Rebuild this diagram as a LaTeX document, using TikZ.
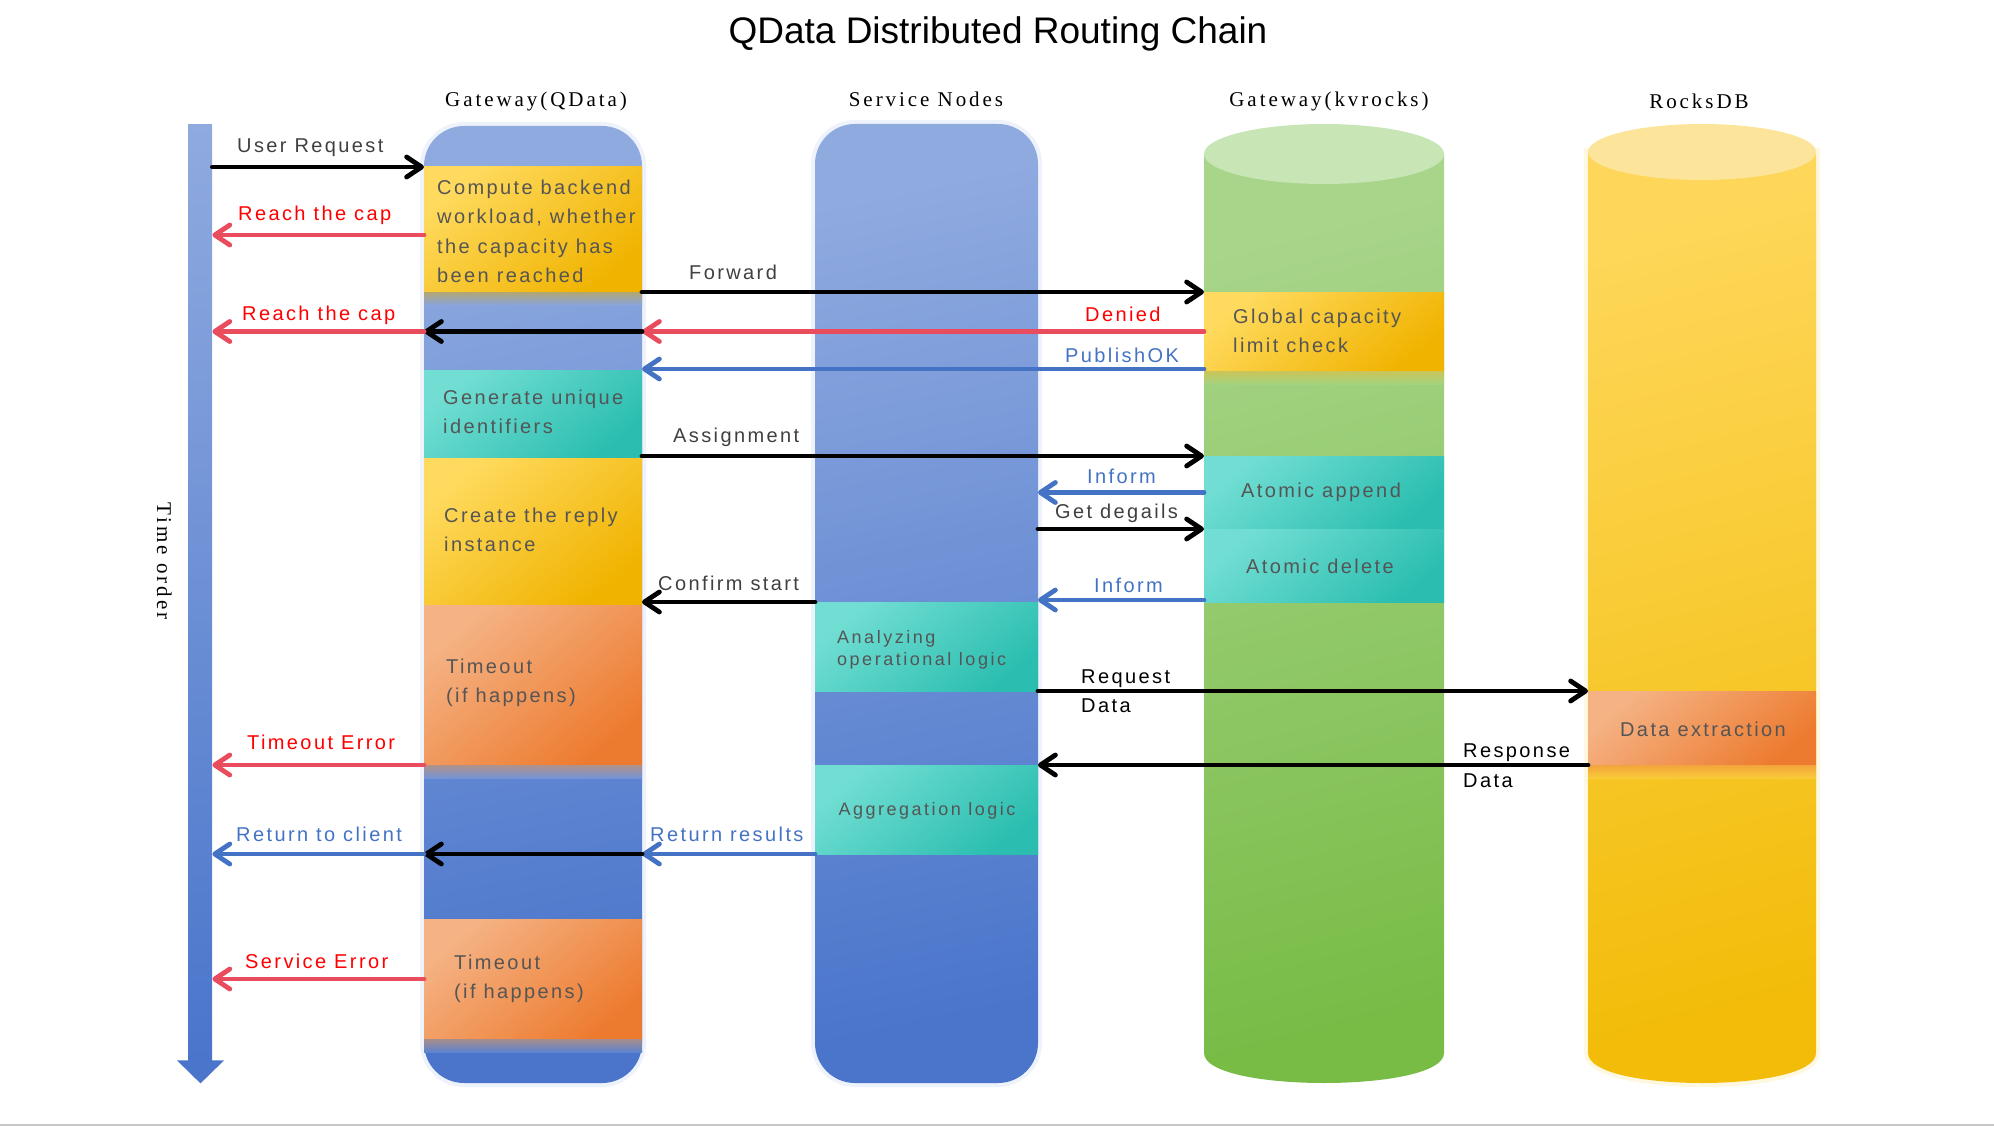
\documentclass[tikz,border=0pt]{standalone}
\usepackage{fontspec}
\setmainfont{Liberation Sans}
\newfontfamily\lblfont[LetterSpace=12]{Liberation Sans}
\newfontfamily\smlfont[LetterSpace=14]{Liberation Sans}
\newfontfamily\hdrfont[LetterSpace=14]{Liberation Serif}
\usetikzlibrary{arrows.meta}
\definecolor{colA}{HTML}{8FAADF}
\definecolor{colB}{HTML}{4A75CB}
\definecolor{yelA}{HTML}{FFDA5E}
\definecolor{yelB}{HTML}{F0B300}
\definecolor{tealA}{HTML}{72DED3}
\definecolor{tealB}{HTML}{2BBEB0}
\definecolor{orA}{HTML}{F5B385}
\definecolor{orB}{HTML}{ED7B2F}
\definecolor{grnA}{HTML}{A9D58B}
\definecolor{grnB}{HTML}{78BC46}
\definecolor{grnTop}{HTML}{C8E5B5}
\definecolor{rdbA}{HTML}{FED75A}
\definecolor{rdbB}{HTML}{F2BC08}
\definecolor{rdbTop}{HTML}{FCE49A}
\definecolor{txtgray}{HTML}{555555}
\definecolor{lblgray}{HTML}{404040}
\definecolor{redarr}{HTML}{E84C5D}
\definecolor{redtxt}{HTML}{FF0000}
\definecolor{bluearr}{HTML}{4472C4}
\definecolor{shA}{HTML}{B2A672}
\definecolor{shAb}{HTML}{89A5DC}
\definecolor{shB}{HTML}{B0928A}
\definecolor{shBb}{HTML}{7593D6}
\definecolor{shC}{HTML}{A88C8A}
\definecolor{shCb}{HTML}{5D84CF}
\definecolor{shD}{HTML}{CBC457}
\definecolor{shDb}{HTML}{A4D380}
\definecolor{shE}{HTML}{F2A43C}
\definecolor{shEb}{HTML}{F9CB38}
\tikzset{
  arr/.style={line width=4.8pt, line cap=round, -{Straight Barb[length=15pt,width=20pt,round]}},
  karr/.style={arr, draw=black},
  rarr/.style={arr, draw=redarr},
  barr/.style={arr, draw=bluearr},
  col/.style={inner sep=0pt, outer sep=0pt, anchor=north west, rounded corners=40pt,
    shading=axis, top color=colA, bottom color=colB, shading angle=12,
    preaction={draw=colA!50, line width=8pt, draw opacity=0.3}},
  blk/.style={inner sep=0pt, outer sep=0pt, anchor=north west},
  yel/.style={blk, shading=axis, top color=yelA, bottom color=yelB, shading angle=40},
  teal/.style={blk, shading=axis, top color=tealA, bottom color=tealB, shading angle=40},
  ora/.style={blk, shading=axis, top color=orA, bottom color=orB, shading angle=40},
  lbl/.style={anchor=base west, inner sep=0pt, font=\lblfont\fontsize{20}{24}\selectfont},
  btxt/.style={lbl, text=txtgray},
  stxt/.style={anchor=base west, inner sep=0pt, text=txtgray, font=\smlfont\fontsize{18}{22}\selectfont},
  hdr/.style={anchor=base, inner sep=0pt, font=\hdrfont\fontsize{21}{25}\selectfont}
}
\begin{document}
\begin{tikzpicture}[x=1pt,y=-1pt]
\path[use as bounding box] (0,0) rectangle (1994,1126);
\draw[black!22, line width=1.5pt] (0,1125) -- (1994,1125);

% title and headers
\node[anchor=base, inner sep=0pt, font=\fontsize{37}{44}\selectfont] (title) at (998,44) {QData Distributed Routing Chain};
\node[hdr] (hqd) at (536,107) {Gateway(QData)};
\node[hdr] (hsn) at (926,107) {Service Nodes};
\node[hdr] (hkv) at (1329,107) {Gateway(kvrocks)};
\node[hdr] (hrdb) at (1699,109) {RocksDB};
\node[hdr, rotate=-90] (hto) at (157,561) {Time order};

% time axis
\node[inner sep=0pt, anchor=north west, minimum width=24pt, minimum height=936pt,
      shading=axis, top color=colA, bottom color=colB] (tb) at (188,124) {};
\fill[colB] (tb.south west) ++(-11,0) -- ++(47,0) -- ++(-23.5,23) -- cycle;

% columns
\node[col, minimum width=218pt, minimum height=957pt] (qd) at (424,126) {};
\node[col, minimum width=223pt, minimum height=959pt] (sn) at (815,124) {};

% cylinders
\path[shading=axis, top color=grnA, bottom color=grnB, shading angle=15]
  (1204,154) -- (1204,1053) .. controls (1204,1093) and (1444,1093) .. (1444,1053) -- (1444,154) -- cycle;
\fill[grnTop] (1324,154) ellipse [x radius=120pt, y radius=30pt];
\path[shading=axis, top color=rdbA, bottom color=rdbB, shading angle=15,
      preaction={draw=rdbA!60, line width=8pt, draw opacity=0.3}]
  (1588,152) -- (1588,1053) .. controls (1588,1093) and (1816,1093) .. (1816,1053) -- (1816,152) -- cycle;
\fill[rdbTop] (1702,152) ellipse [x radius=114pt, y radius=28pt];

% blocks
\node[yel, minimum width=218pt, minimum height=125pt] (compute) at (424,167) {};
\node[teal, minimum width=218pt, minimum height=88pt] (gen) at (424,370) {};
\node[yel, minimum width=218pt, minimum height=147pt] (create) at (424,458) {};
\node[ora, minimum width=218pt, minimum height=160pt] (to1) at (424,605) {};
\node[ora, minimum width=218pt, minimum height=120pt] (to2) at (424,919) {};
\node[teal, minimum width=223pt, minimum height=89pt] (analyze) at (815,602) {};
\node[teal, minimum width=223pt, minimum height=89pt] (agg) at (815,765) {};
\node[yel, minimum width=240pt, minimum height=79pt] (gcap) at (1204,292) {};
\node[teal, minimum width=240pt, minimum height=73pt] (append) at (1204,456) {};
\node[teal, minimum width=240pt, minimum height=73pt] (delete) at (1204,529) {};
\node[ora, minimum width=228pt, minimum height=74pt] (dataext) at (1588,691) {};

% shadows under blocks
\shade[top color=shA, bottom color=shAb] (424,292) rectangle (642,305);
\shade[top color=shB, bottom color=shBb] (424,765) rectangle (642,778);
\shade[top color=shC, bottom color=shCb] (424,1039) rectangle (642,1052);
\shade[top color=shD, bottom color=shDb] (1204,371) rectangle (1444,384);
\shade[top color=shE, bottom color=shEb] (1588,765) rectangle (1816,778);

% connectors
\coordinate (rc1) at (424,235);
\coordinate (pub) at ([yshift=2pt]gcap.south west);
\coordinate (inf2) at ([yshift=2pt]delete.south west);
\draw[karr] (tb.east |- compute.north west) -- (compute.north west);
\draw[rarr] (rc1) -- (tb.east |- rc1);
\draw[karr] (compute.south east) -- (gcap.north west);
\draw[rarr] (gcap.west) -- (qd.east |- gcap.west);
\draw[karr] (qd.east |- gcap.west) -- (qd.west |- gcap.west);
\draw[rarr] (qd.west |- gcap.west) -- (tb.east |- gcap.west);
\draw[barr] (pub) -- (qd.east |- pub);
\draw[karr] (qd.east |- append.north west) -- (append.north west);
\draw[barr] (append.west) -- (sn.east |- append.west);
\draw[karr] (sn.east |- delete.north west) -- (delete.north west);
\draw[barr] (inf2) -- (sn.east |- inf2);
\draw[karr] (analyze.north west) -- (qd.east |- analyze.north west);
\draw[karr] (analyze.south east) -- (dataext.north west);
\draw[karr] (dataext.south west) -- (agg.north east);
\draw[rarr] (to1.south west) -- (tb.east |- to1.south west);
\draw[barr] (agg.south west) -- (qd.east |- agg.south west);
\draw[karr] (qd.east |- agg.south west) -- (qd.west |- agg.south west);
\draw[barr] (qd.west |- agg.south west) -- (tb.east |- agg.south west);
\draw[rarr] (to2.west) -- (tb.east |- to2.west);

% connector labels
\node[lbl, text=lblgray] (lur) at (237,153) {User Request};
\node[lbl, text=redtxt] (lrc1) at (238,221) {Reach the cap};
\node[lbl, text=redtxt] (lrc2) at (242,320) {Reach the cap};
\node[lbl, text=lblgray] (lfw) at (689,279) {Forward};
\node[lbl, text=redtxt] (lden) at (1085,321) {Denied};
\node[lbl, text=bluearr] (lpub) at (1065,362) {PublishOK};
\node[lbl, text=lblgray] (lasg) at (673,442) {Assignment};
\node[lbl, text=bluearr] (linf1) at (1087,483) {Inform};
\node[lbl, text=lblgray] (lget) at (1055,518) {Get degails};
\node[lbl, text=bluearr] (linf2) at (1094,592) {Inform};
\node[lbl, text=lblgray] (lconf) at (658,590) {Confirm start};
\node[lbl, text=black] (lreq1) at (1081,683) {Request};
\node[lbl, text=black] (lreq2) at (1081,712) {Data};
\node[lbl, text=black] (lres1) at (1463,757) {Response};
\node[lbl, text=black] (lres2) at (1463,787) {Data};
\node[lbl, text=redtxt] (lte) at (247,749) {Timeout Error};
\node[lbl, text=bluearr] (lrtc) at (236,841) {Return to client};
\node[lbl, text=bluearr] (lrr) at (650,841) {Return results};
\node[lbl, text=redtxt] (lse) at (245,968) {Service Error};

% block texts
\node[btxt] (tc1) at (437,195) {Compute backend};
\node[btxt] (tc2) at (437,224) {workload, whether};
\node[btxt] (tc3) at (437,253) {the capacity has};
\node[btxt] (tc4) at (437,282) {been reached};
\node[btxt] (tg1) at (443,404) {Generate unique};
\node[btxt] (tg2) at (443,433) {identifiers};
\node[btxt] (tr1) at (444,522) {Create the reply};
\node[btxt] (tr2) at (444,551) {instance};
\node[btxt] (tt1) at (446,673) {Timeout};
\node[btxt] (tt2) at (446,702) {(if happens)};
\node[btxt] (tu1) at (454,969) {Timeout};
\node[btxt] (tu2) at (454,998) {(if happens)};
\node[btxt] (tk1) at (1233,323) {Global capacity};
\node[btxt] (tk2) at (1233,352) {limit check};
\node[btxt, anchor=base] (tap) at (1321,497) {Atomic append};
\node[btxt, anchor=base] (tdel) at (1320,573) {Atomic delete};
\node[stxt] (ta1) at (837,643) {Analyzing};
\node[stxt] (ta2) at (837,665) {operational logic};
\node[stxt, anchor=base] (tagg) at (927,815) {Aggregation logic};
\node[btxt, anchor=base] (tde) at (1703,736) {Data extraction};
\end{tikzpicture}
\end{document}
